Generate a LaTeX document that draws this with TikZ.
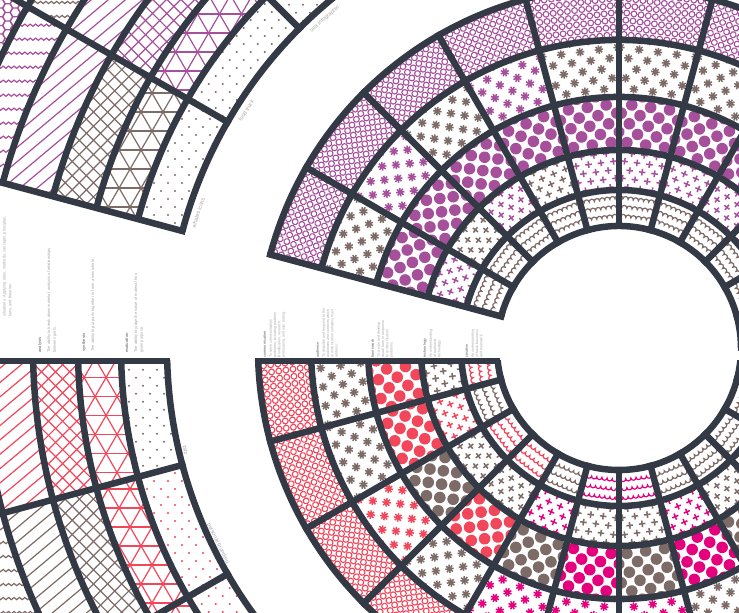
\documentclass[tikz,border=0pt]{standalone}
\usepackage{fontspec}
\setmainfont{Liberation Sans}
\definecolor{frame}{HTML}{333A45}
\definecolor{cpurple}{HTML}{A6509C}
\definecolor{cbrown}{HTML}{7D6B67}
\definecolor{cred}{HTML}{F2465B}
\definecolor{cmag}{HTML}{E5007E}
\definecolor{txt}{HTML}{A8A8A8}
\definecolor{ttl}{HTML}{858585}

\tikzset{
  grid/.style={draw=frame, line width=6.5pt},
  col/.style={rotate=90, anchor=north west, align=left, inner sep=0pt, text=txt,
    font=\fontsize{4}{5.7}\selectfont},
  mcol/.style={col, font=\fontsize{3.6}{4.3}\selectfont},
  lbl/.style={anchor=base, inner sep=0pt, text=txt, font=\fontsize{5.5}{6}\selectfont}
}
\newcommand{\ttl}[1]{\textcolor{ttl}{\textbf{#1}}}

% one cell of a ring: start angle, end angle, inner r, outer r, pattern, colour, image aligned?
\newcommand{\cell}[7]{%
  \begin{scope}
    \clip (#1:#3) arc[start angle=#1, end angle=#2, radius=#3] -- (#2:#4)
      arc[start angle=#2, end angle=#1, radius=#4] -- cycle;
    \pgfmathsetmacro\pM{(#1+#2)/2}%
    \pgfmathsetmacro\pA{(#2-#1)/2}%
    \pgfmathsetmacro\pC{(#3*cos(\pA)+#4)/2}%
    \pgfmathsetmacro\pW{#4*sin(\pA)}%
    \pgfmathsetmacro\pH{(#4-#3*cos(\pA))/2}%
    \def\pR{0}%
    \ifnum#7=1
      \pgfmathsetmacro\pW{sqrt(\pW*\pW+\pH*\pH)}\let\pH\pW
      \pgfmathsetmacro\pR{90-\pM}%
    \fi
    \begin{scope}[shift={(\pM:\pC)}, rotate=\pM-90, rotate=\pR, color=#6]
      #5
    \end{scope}
  \end{scope}}

% patterns
\newcommand{\pcirc}{%
  \pgfmathtruncatemacro\nx{\pW/7.2+1}\pgfmathtruncatemacro\ny{\pH/7.2+1}%
  \foreach \j in {-\ny,...,\ny}{%
    \draw[line width=1.1pt] \foreach \i in {-\nx,...,\nx}{(\i*7.2,\j*7.2) circle[radius=2.9]};}}
\newcommand{\pdots}{%
  \pgfmathtruncatemacro\nx{\pW/19+1}\pgfmathtruncatemacro\ny{\pH/9.5+1}%
  \foreach \j in {-\ny,...,\ny}{%
    \pgfmathsetmacro\pOff{mod(abs(\j),2)*9.5}%
    \fill \foreach \i in {-\nx,...,\nx}{(\i*19+\pOff,\j*9.5) circle[radius=5.8]};}}
\newcommand{\past}{%
  \pgfmathtruncatemacro\nx{\pW/19+1}\pgfmathtruncatemacro\ny{\pH/10+1}%
  \foreach \j in {-\ny,...,\ny}{%
    \pgfmathsetmacro\pOff{mod(abs(\j),2)*9.5}%
    \draw[line width=1.5pt] \foreach \i in {-\nx,...,\nx}{(\i*19+\pOff,\j*10)
      +(-4.3,0) -- +(4.3,0) +(0,-4.3) -- +(0,4.3) +(-3,-3) -- +(3,3) +(-3,3) -- +(3,-3)};}}
\newcommand{\pcross}{%
  \pgfmathtruncatemacro\nx{\pW/12.5+1}\pgfmathtruncatemacro\ny{\pH/8.5+1}%
  \foreach \j in {-\ny,...,\ny}{%
    \pgfmathsetmacro\pOff{mod(abs(\j),2)*6.25}%
    \draw[line width=1.5pt] \foreach \i in {-\nx,...,\nx}{(\i*12.5+\pOff,\j*8.5)
      +(-3.3,0) -- +(3.3,0) +(0,-3.3) -- +(0,3.3)};}}
\newcommand{\pscal}{%
  \pgfmathtruncatemacro\nx{\pW/5.2+2}\pgfmathtruncatemacro\ny{\pH/9+1}%
  \foreach \j in {-\ny,...,\ny}{%
    \draw[line width=1.2pt] (-\nx*5.2,\j*9) \foreach \i in {-\nx,...,\nx}{arc[start angle=180, end angle=0, radius=2.6]};}}
\newcommand{\psmall}{%
  \pgfmathtruncatemacro\nx{\pW/14+1}\pgfmathtruncatemacro\ny{\pH/8+1}%
  \foreach \j in {-\ny,...,\ny}{%
    \pgfmathsetmacro\pOff{mod(abs(\j),2)*7}%
    \fill \foreach \i in {-\nx,...,\nx}{(\i*14+\pOff,\j*8) circle[radius=1.1]};}}
\newcommand{\plines}[2]{%
  \pgfmathsetmacro\pD{sqrt(\pW*\pW+\pH*\pH)}\pgfmathtruncatemacro\nn{\pD/#2+1}%
  \draw[line width=1.2pt, rotate=#1] \foreach \k in {-\nn,...,\nn}{(-\pD,\k*#2) -- (\pD,\k*#2)};}
\newcommand{\ptri}{\plines{0}{19}\plines{60}{19}\plines{120}{19}}
\newcommand{\phatch}{\plines{45}{10}\plines{-45}{10}}
\newcommand{\pdiag}{\plines{40}{11}}
\newcommand{\pzig}{%
  \pgfmathtruncatemacro\nx{\pW/5.4+1}\pgfmathtruncatemacro\ny{\pH/14+1}%
  \foreach \j in {-\ny,...,\ny}{%
    \draw[line width=1.2pt] (-\nx*5.4-5.4,\j*14) \foreach \i in {-\nx,...,\nx}{-- ++(2.7,2.2) -- ++(2.7,-2.2)};}}
\newcommand{\phex}{%
  \pgfmathtruncatemacro\nx{\pW/7.5+1}\pgfmathtruncatemacro\ny{\pH/8.66+1}%
  \foreach \i in {-\nx,...,\nx}{%
    \pgfmathsetmacro\pOff{mod(abs(\i),2)*4.33}%
    \draw[line width=1.2pt] \foreach \j in {-\ny,...,\ny}{(\i*7.5,\j*8.66+\pOff)
      +(0:5) -- +(60:5) -- +(120:5) -- +(180:5) -- +(240:5) -- +(300:5) -- cycle};}}

\begin{document}
\begin{tikzpicture}[x=1pt, y=1pt]
\useasboundingbox (-619,-265) rectangle (120,348);
\clip (-619,-265) rectangle (120,348);
\fill[white] (-619,-265) rectangle (120,348);

% upper half of the wheel
\foreach \a in {0,15,...,150} \cell{\a}{\a+15}{122}{158}{\pscal}{cbrown}{0};
\foreach \a/\c in {150/cpurple,135/cbrown,120/cpurple,105/cbrown,90/cpurple,75/cpurple,60/cpurple,45/cpurple,30/cpurple}
  \cell{\a}{\a+15}{158}{198}{\pcross}{\c}{0};
\foreach \a in {45,60,...,150} \cell{\a}{\a+15}{198}{251}{\pdots}{cpurple}{0};
\foreach \a/\c in {150/cbrown,135/cpurple,120/cbrown,105/cpurple,90/cbrown,75/cbrown,60/cbrown}
  \cell{\a}{\a+15}{251}{308}{\past}{\c}{0};
\foreach \a in {60,75,...,150} \cell{\a}{\a+15}{308}{361}{\pcirc}{cpurple}{0};

% lower half of the wheel
\begin{scope}
  \clip (-800,-13) rectangle (800,-800);
  \foreach \a/\c in {180/cred,195/cbrown,210/cred,225/cred,240/cbrown,255/cmag,270/cmag,285/cbrown,300/cbrown,315/cbrown,330/cbrown,345/cbrown}
    \cell{\a}{\a+15}{122}{158}{\pscal}{\c}{0};
  \foreach \a/\c in {180/cbrown,195/cred,210/cbrown,225/cbrown,240/cmag,255/cbrown,270/cbrown,285/cmag,300/cbrown,315/cbrown}
    \cell{\a}{\a+15}{158}{198}{\pcross}{\c}{0};
  \foreach \a/\c in {180/cred,195/cred,210/cbrown,225/cred,240/cbrown,255/cmag,270/cbrown,285/cmag,300/cbrown}
    \cell{\a}{\a+15}{198}{251}{\pdots}{\c}{0};
  \foreach \a/\c in {180/cbrown,195/cbrown,210/cred,225/cbrown,240/cmag,255/cmag,270/cmag,285/cbrown}
    \cell{\a}{\a+15}{251}{308}{\past}{\c}{0};
  \foreach \a in {180,195,210,225} \cell{\a}{\a+15}{308}{361}{\pcirc}{cred}{0};

  % lower left fragment
  \foreach \a/\c in {180/cbrown,195/cred,210/cred} \cell{\a}{\a+15}{452}{498}{\psmall}{\c}{1};
  \foreach \a/\c in {180/cred,195/cred,210/cred} \cell{\a}{\a+15}{498}{541}{\ptri}{\c}{1};
  \foreach \a/\c in {180/cred,195/cbrown} \cell{\a}{\a+15}{541}{586}{\phatch}{\c}{1};
  \foreach \a/\c in {180/cred,195/cbrown} \cell{\a}{\a+15}{586}{638}{\pdiag}{\c}{1};
  \cell{195}{210}{638}{683}{\pzig}{cbrown}{1};
\end{scope}

% upper left fragment
\foreach \a in {120,135,150} \cell{\a}{\a+15}{452}{498}{\psmall}{cbrown}{1};
\foreach \a/\c in {135/cpurple,150/cbrown} \cell{\a}{\a+15}{498}{541}{\ptri}{\c}{1};
\foreach \a/\c in {135/cpurple,150/cbrown} \cell{\a}{\a+15}{541}{586}{\phatch}{\c}{1};
\foreach \a in {135,150} \cell{\a}{\a+15}{586}{638}{\pdiag}{cpurple}{1};
\foreach \a/\c in {135/cbrown,150/cpurple} \cell{\a}{\a+15}{638}{683}{\pzig}{\c}{1};
\foreach \a in {135,150} \cell{\a}{\a+15}{683}{760}{\phex}{cpurple}{1};

% frames
\foreach \r in {122,158,198,251,308,361}
  \draw[grid] (165:\r) arc[start angle=165, end angle=0, radius=\r];
\foreach \a in {0,15,...,165}
  \draw[grid] (\a:118.75) -- (\a:364.25);
\foreach \r in {452,498,541,586,638,683}
  \draw[grid] (165:\r) arc[start angle=165, end angle=100, radius=\r];
\foreach \a in {120,135,150,165}
  \draw[grid] (\a:448.75) -- (\a:800);
\begin{scope}
  \clip (-800,-13) rectangle (800,-800);
  \foreach \r in {122,158,198,251,308,361}
    \draw[grid] (180:\r) arc[start angle=180, end angle=360, radius=\r];
  \foreach \a in {195,210,...,345}
    \draw[grid] (\a:118.75) -- (\a:364.25);
  \foreach \r in {452,498,541,586,638,683}
    \draw[grid] (180:\r) arc[start angle=180, end angle=250, radius=\r];
  \foreach \a in {195,210,225,240}
    \draw[grid] (\a:448.75) -- (\a:800);
\end{scope}
\draw[grid] (-364.25,-13) -- (-118.75,-13);
\draw[grid] (-800,-13) -- (-448.75,-13);

% ring labels
\node[lbl, rotate=72.2] (whales) at (162.2:440) {whales icons};
\node[lbl, rotate=57.5] (food) at (147.5:440) {food truck};
\node[lbl, rotate=41.8] (sea) at (131.8:440) {sea infographic};
\node[lbl, rotate=283.3] (bitz) at (193.3:447.5) {bitz};
\node[lbl, rotate=296] (branding) at (206:447.5) {personal branding};

% text columns
\node[col] (application) at (-616.5,31) {situations. Applying rules, methods, concepts, principles,\\ laws, and theories.};
\node[col] (analysis) at (-581,-5) {\ttl{analysis}\\[3.3pt] The ability to break down material, analysis of relationships\\ between parts.};
\node[col] (synthesis) at (-537,-4) {\ttl{synthesis}\\[3.3pt] The ability to put parts together to form a new whole.};
\node[col] (evaluation) at (-494,-5) {\ttl{evaluation}\\[3.3pt] The ability to judge the value of material for a\\ given purpose.};
\node[mcol] (communication) at (-356,-10) {\ttl{communication}\\[1.7pt] To solve communication\\ problems, including problem\\ identification, research,\\ prototyping, and user testing.};
\node[mcol] (audience) at (-303,-10) {\ttl{audience}\\[1.7pt] To describe and respond to the\\ audiences and contexts which\\ communication solutions must\\ address.};
\node[mcol] (framework) at (-248,-10) {\ttl{framework}\\[1.7pt] To create and develop\\ visual form in response\\ to communication\\ problems.};
\node[mcol] (technology) at (-196,-10) {\ttl{technology}\\[1.7pt] An understanding\\ of tools and\\ technology.};
\node[mcol] (business) at (-154,-10) {\ttl{creative}\\[1.7pt] An understanding\\ of basic business\\ and teamwork.};
\end{tikzpicture}
\end{document}
